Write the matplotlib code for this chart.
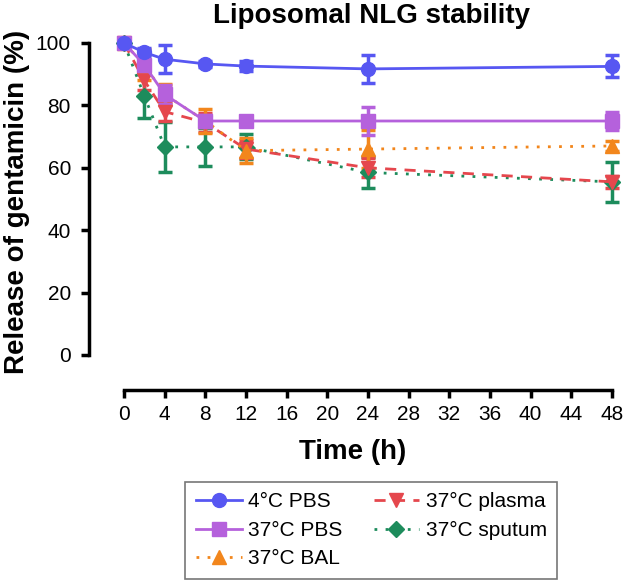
import matplotlib
matplotlib.use("Agg")
import matplotlib.pyplot as plt

plt.rcParams["font.family"] = ["Liberation Sans", "DejaVu Sans"]

# time points (h)
hours = [0, 2, 4, 8, 12, 24, 48]

pbs_4c = [100, 97, 94.8, 93.3, 92.6, 91.7, 92.5]
pbs_4c_err = [0, 1.5, 4.5, 1.0, 1.5, 4.5, 3.5]

pbs_37c = [100, 93, 83.5, 75, 75, 75, 75]
pbs_37c_err = [0, 3, 3, 2, 1.5, 4.5, 3]

plasma_37c = [100, 88, 78, 74.5, 66, 60, 55.5]
plasma_37c_err = [0, 3, 3, 3, 3, 3, 2]

sputum_37c = [100, 83, 66.7, 66.7, 66.7, 58.5, 55.5]
sputum_37c_err = [0, 7, 8, 6, 4, 5, 6.5]

bal_37c = [100, 93, 83.5, 75, 65.5, 66, 67]
bal_37c_err = [0, 5, 3.5, 4, 4, 6, 1.5]

x_ticks = list(range(0, 49, 4))
y_ticks = [0, 20, 40, 60, 80, 100]

fig = plt.figure(figsize=(6.24, 5.84), dpi=100)
W, H = 624, 584
left, right, top, bottom = 89, 617, 43, 355
ax = fig.add_axes([left / W, 1 - bottom / H, (right - left) / W, (bottom - top) / H])

series = [
    (pbs_4c, pbs_4c_err, "4\u00b0C PBS", "#5757f2", "o", "-", 10),
    (pbs_37c, pbs_37c_err, "37\u00b0C PBS", "#b561dc", "s", "-", 10),
    (bal_37c, bal_37c_err, "37\u00b0C BAL", "#f2861c", "^", (0, (1, 3)), 10),
    (plasma_37c, plasma_37c_err, "37\u00b0C plasma", "#e5474d", "v", (0, (4, 3)), 10),
    (sputum_37c, sputum_37c_err, "37\u00b0C sputum", "#1d8c5c", "D", (0, (1, 3)), 8),
]

handles = []
# draw lower series first so PBS lines sit on top
for vals, err, label, color, marker, ls, ms in reversed(series):
    h = ax.errorbar(hours, vals, yerr=err, color=color, marker=marker, markersize=ms,
                    linestyle=ls, linewidth=2, elinewidth=2.5, capsize=5, capthick=2.5,
                    label=label, clip_on=False)
    handles.append(h[0])
handles = handles[::-1]

ax.set_xlim(-3.44, 48.5)
ax.set_ylim(0, 100)

ax.spines["top"].set_visible(False)
ax.spines["right"].set_visible(False)
ax.spines["left"].set_linewidth(2.5)
ax.spines["bottom"].set_linewidth(2.5)
ax.spines["bottom"].set_position(("outward", 25))
ax.spines["bottom"].set_bounds(0, 48)
ax.spines["left"].set_bounds(0, 100)

ax.set_xticks(x_ticks)
ax.set_yticks(y_ticks)
ax.tick_params(axis="both", labelsize=15, width=2.5, length=6, direction="out")
ax.tick_params(axis="y", pad=7)
ax.tick_params(axis="x", pad=5)

ax.set_xlabel("Time (h)", fontsize=20, fontweight="bold", labelpad=11)
ax.set_ylabel("Release of gentamicin (%)", fontsize=20, fontweight="bold")
ax.yaxis.set_label_coords(-0.112, 0.49)
fig.text(0.595, 0.972, "Liposomal NLG stability", ha="center", va="center",
         fontsize=20, fontweight="bold")

leg = fig.legend(handles=handles, labels=[s[2] for s in series], ncol=2,
                 loc="center", bbox_to_anchor=(0.595, 0.092), fontsize=15,
                 frameon=True, fancybox=False, edgecolor="#555555",
                 handlelength=2.2, handletextpad=0.3, columnspacing=1.5,
                 borderpad=0.5, labelspacing=0.45)
leg.get_frame().set_linewidth(1.2)

fig.savefig("out.png", dpi=100)
